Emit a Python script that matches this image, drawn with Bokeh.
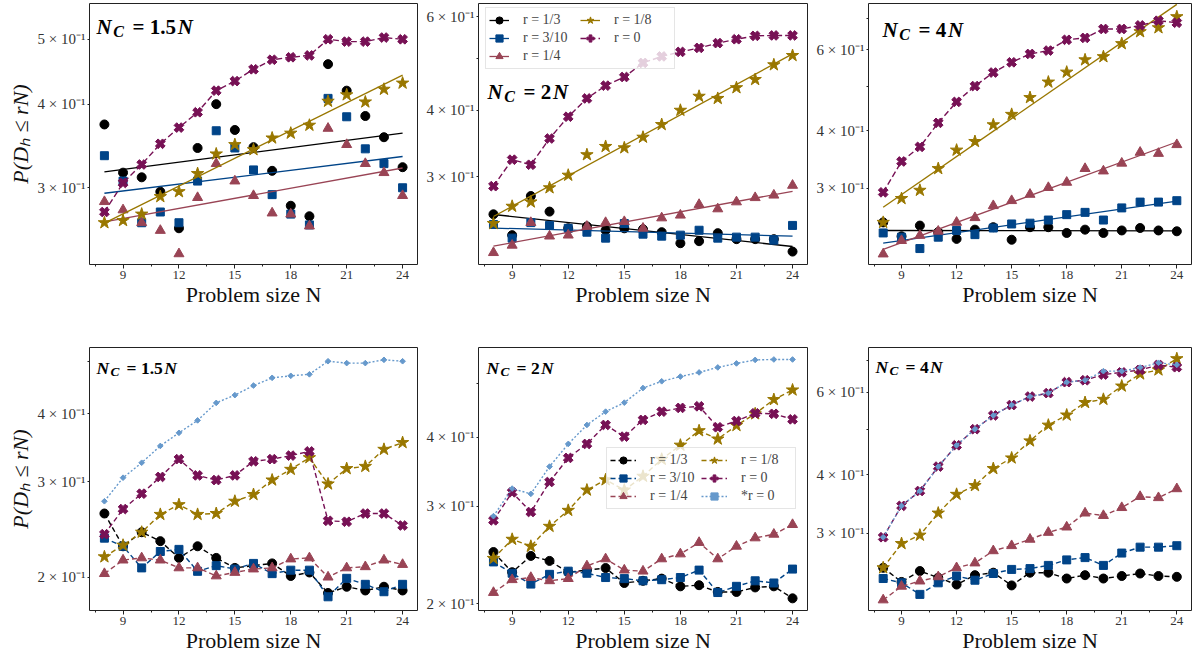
import numpy as np
from bokeh.plotting import figure
from bokeh.models import (Range1d, FixedTicker, SingleIntervalTicker, CustomJSTickFormatter,
                          Legend, LegendItem, Label, LinearAxis)
from bokeh.layouts import row, column
from bokeh.embed import file_html
from bokeh.resources import INLINE

# ---------------- data ----------------
N = list(range(8, 25))

# top-left  (N_C = 1.5N), points + exponential fits
a_r13 = [0.373, 0.316, 0.311, 0.296, 0.261, 0.344, 0.400, 0.366, 0.345, 0.318, 0.282, 0.272, 0.459, 0.419, 0.384, 0.357, 0.322]
a_r310 = [0.335, 0.307, 0.266, 0.276, 0.266, 0.307, 0.365, 0.344, 0.319, 0.293, 0.274, 0.264, 0.408, 0.383, 0.343, 0.326, 0.300]
a_r14 = [0.286, 0.278, 0.266, 0.259, 0.239, 0.290, 0.326, 0.307, 0.292, 0.275, 0.274, 0.263, 0.368, 0.348, 0.326, 0.316, 0.292]
a_r18 = [0.266, 0.268, 0.274, 0.291, 0.296, 0.315, 0.337, 0.348, 0.342, 0.356, 0.362, 0.372, 0.404, 0.413, 0.403, 0.421, 0.430]
a_r0 = [0.276, 0.305, 0.325, 0.349, 0.369, 0.389, 0.419, 0.433, 0.451, 0.466, 0.470, 0.473, 0.500, 0.496, 0.496, 0.503, 0.500]

# top-middle (N_C = 2N)
b_r13 = [0.255, 0.233, 0.276, 0.258, 0.240, 0.242, 0.238, 0.240, 0.239, 0.236, 0.225, 0.227, 0.235, 0.229, 0.229, 0.229, 0.217]
b_r310 = [0.244, 0.230, 0.246, 0.243, 0.240, 0.236, 0.230, 0.245, 0.234, 0.232, 0.233, 0.238, 0.230, 0.231, 0.231, 0.228, 0.243]
b_r14 = [0.216, 0.223, 0.246, 0.232, 0.233, 0.242, 0.246, 0.247, 0.240, 0.251, 0.254, 0.266, 0.261, 0.269, 0.274, 0.277, 0.289]
b_r18 = [0.245, 0.264, 0.269, 0.286, 0.302, 0.330, 0.342, 0.340, 0.356, 0.376, 0.400, 0.425, 0.421, 0.441, 0.457, 0.487, 0.507]
b_r0 = [0.288, 0.323, 0.316, 0.354, 0.389, 0.421, 0.445, 0.462, 0.491, 0.505, 0.515, 0.524, 0.535, 0.544, 0.552, 0.553, 0.553]

# top-right (N_C = 4N)
c_r13 = [0.253, 0.236, 0.249, 0.241, 0.233, 0.244, 0.247, 0.232, 0.247, 0.247, 0.240, 0.244, 0.240, 0.243, 0.246, 0.243, 0.242]
c_r310 = [0.240, 0.235, 0.222, 0.235, 0.243, 0.238, 0.246, 0.251, 0.252, 0.256, 0.263, 0.266, 0.256, 0.272, 0.280, 0.280, 0.282]
c_r14 = [0.216, 0.231, 0.237, 0.242, 0.253, 0.259, 0.275, 0.282, 0.291, 0.301, 0.309, 0.331, 0.327, 0.340, 0.359, 0.357, 0.373]
c_r18 = [0.253, 0.285, 0.297, 0.331, 0.363, 0.379, 0.412, 0.434, 0.472, 0.510, 0.536, 0.570, 0.579, 0.618, 0.656, 0.669, 0.707]
c_r0 = [0.294, 0.343, 0.369, 0.416, 0.462, 0.500, 0.535, 0.563, 0.587, 0.597, 0.630, 0.636, 0.665, 0.665, 0.677, 0.693, 0.686]

# bottom-left (N_C = 1.5N)
d_r13 = [0.262, 0.228, 0.242, 0.233, 0.217, 0.228, 0.217, 0.208, 0.210, 0.212, 0.201, 0.204, 0.187, 0.192, 0.189, 0.192, 0.189]
d_r310 = [0.236, 0.228, 0.208, 0.223, 0.225, 0.205, 0.210, 0.207, 0.212, 0.203, 0.206, 0.206, 0.184, 0.199, 0.194, 0.188, 0.194]
d_r14 = [0.203, 0.215, 0.217, 0.215, 0.208, 0.208, 0.201, 0.204, 0.207, 0.208, 0.216, 0.217, 0.200, 0.208, 0.209, 0.215, 0.211]
d_r18 = [0.218, 0.229, 0.242, 0.261, 0.272, 0.261, 0.262, 0.276, 0.284, 0.302, 0.316, 0.332, 0.297, 0.317, 0.320, 0.344, 0.354]
d_r0 = [0.240, 0.267, 0.285, 0.306, 0.330, 0.308, 0.302, 0.308, 0.327, 0.330, 0.335, 0.341, 0.254, 0.253, 0.262, 0.262, 0.249]
d_r0s = a_r0

# bottom-middle (N_C = 2N)
e_r13 = [0.248, 0.228, 0.244, 0.239, 0.228, 0.230, 0.232, 0.218, 0.220, 0.222, 0.215, 0.216, 0.210, 0.210, 0.214, 0.215, 0.2045]
e_r310 = [0.238, 0.227, 0.217, 0.226, 0.229, 0.227, 0.223, 0.222, 0.220, 0.221, 0.223, 0.230, 0.2095, 0.215, 0.220, 0.218, 0.231]
e_r14 = [0.2095, 0.221, 0.223, 0.220, 0.222, 0.234, 0.241, 0.230, 0.229, 0.241, 0.246, 0.258, 0.241, 0.254, 0.263, 0.267, 0.278]
e_r18 = [0.2415, 0.2615, 0.254, 0.276, 0.295, 0.321, 0.335, 0.321, 0.340, 0.365, 0.387, 0.411, 0.397, 0.420, 0.441, 0.468, 0.487]
e_r0 = [0.283, 0.318, 0.293, 0.332, 0.367, 0.389, 0.421, 0.401, 0.430, 0.445, 0.452, 0.455, 0.417, 0.428, 0.442, 0.441, 0.431]
e_r0s = b_r0

# bottom-right (N_C = 4N)
f_r13, f_r310, f_r14, f_r18 = c_r13, c_r310, c_r14, c_r18
f_r0 = [0.294, 0.343, 0.369, 0.416, 0.462, 0.500, 0.535, 0.563, 0.587, 0.597, 0.630, 0.636, 0.654, 0.661, 0.669, 0.685, 0.678]
f_r0s = c_r0

x_ticks_interval = 3
nc_texts = ["1.5", "2", "4"]

# ---------------- styles ----------------
FONT = "Liberation Serif"
COL = {"r13": "#000000", "r310": "#004488", "r14": "#994455", "r18": "#997700",
       "r0": "#771155", "r0s": "#6699CC"}
LAB = {"r13": "r = 1/3", "r310": "r = 3/10", "r14": "r = 1/4", "r18": "r = 1/8",
       "r0": "r = 0", "r0s": "*r = 0"}
MARK = {"r13": ("circle", 9, 0.0), "r310": ("square", 8, 0.0), "r14": ("triangle", 10, 0.0),
        "r18": ("star", 13, 0.0), "r0": ("plus", 10, np.pi / 4), "r0s": ("square", 4, np.pi / 4)}


def make_fig(w, h, bl, br, bt, bb, yr, yt, ym, ylabel=False):
    p = figure(width=w, height=h, x_range=Range1d(7.2, 24.8), y_range=Range1d(*yr),
               y_axis_type="log", y_axis_location=None,
               output_backend="svg", toolbar_location=None,
               min_border_left=bl, min_border_right=br, min_border_top=bt, min_border_bottom=bb)
    yax = LinearAxis(ticker=FixedTicker(ticks=yt, minor_ticks=ym),
                     formatter=CustomJSTickFormatter(
                         code="return Math.round(tick*10) + ' \u00d7 10\u207b\u00b9';"))
    p.add_layout(yax, "left")
    p.xgrid.visible = False
    p.ygrid.visible = False
    p.outline_line_color = "#222222"
    p.outline_line_width = 1
    p.background_fill_color = "white"
    p.border_fill_color = "white"
    p.xaxis.ticker = SingleIntervalTicker(interval=x_ticks_interval, num_minor_ticks=2)
    for ax in (p.xaxis[0], yax):
        ax.axis_line_color = None
        ax.major_label_text_font = FONT
        ax.major_label_text_color = "#333333"
        ax.major_tick_line_color = "#222222"
        ax.minor_tick_line_color = "#222222"
        ax.major_tick_in = 0
        ax.minor_tick_in = 0
    p.xaxis.major_label_text_font_size = "13px"
    yax.major_label_text_font_size = "15px"
    p.xaxis.major_tick_out = 4
    p.xaxis.minor_tick_out = 2
    yax.major_tick_out = 2
    yax.minor_tick_out = 2
    p.xaxis.major_label_standoff = 2
    yax.major_label_standoff = 2
    p.xaxis.axis_label = "Problem size N"
    p.xaxis.axis_label_text_font = FONT
    p.xaxis.axis_label_text_font_size = "22px"
    p.xaxis.axis_label_text_font_style = "normal"
    p.xaxis.axis_label_text_color = "#111111"
    p.xaxis.axis_label_standoff = 0
    if ylabel:
        yax.axis_label = "P(D\u2095 \u2264 rN)"
        yax.axis_label_text_font = FONT
        yax.axis_label_text_font_size = "22px"
        yax.axis_label_text_font_style = "italic"
        yax.axis_label_text_color = "#111111"
        yax.axis_label_standoff = 2
    return p


def nc_label(p, fh, x0, base, fs, num):
    y = fh - base
    common = dict(x_units="screen", y_units="screen", text_font=FONT, text_color="black",
                  text_baseline="alphabetic")
    p.add_layout(Label(x=x0, y=y, text="N", text_font_size=f"{fs}px",
                       text_font_style="bold italic", **common))
    p.add_layout(Label(x=x0 + 0.8 * fs, y=y - 0.22 * fs, text="C", text_font_size=f"{0.76 * fs:.1f}px",
                       text_font_style="bold italic", **common))
    p.add_layout(Label(x=x0 + 1.72 * fs, y=y, text="= " + num, text_font_size=f"{fs}px",
                       text_font_style="bold", **common))
    numw = sum(0.5 if ch.isdigit() else 0.25 for ch in num) * fs
    p.add_layout(Label(x=x0 + 1.72 * fs + 0.84 * fs + numw + 0.06 * fs, y=y, text="N",
                       text_font_size=f"{fs}px", text_font_style="bold italic", **common))


def scatter(p, key, y):
    m, s, a = MARK[key]
    return p.scatter(N, y, marker=m, size=s, angle=a, fill_color=COL[key], line_color=COL[key])


def top_series(p, data):
    items = []
    for key in ["r13", "r310", "r14", "r18"]:
        y = np.array(data[key])
        coef = np.polyfit(N, np.log10(y), 1)
        fx = [N[0], N[-1]]
        fy = [10 ** np.polyval(coef, x) for x in fx]
        sc = scatter(p, key, y)
        ln = p.line(fx, fy, line_color=COL[key], line_width=1.3)
        items.append(LegendItem(label=LAB[key], renderers=[ln, sc]))
    ln = p.line(N, data["r0"], line_color=COL["r0"], line_width=1.4, line_dash="6 3")
    sc = scatter(p, "r0", data["r0"])
    items.append(LegendItem(label=LAB["r0"], renderers=[ln, sc]))
    return items


def bottom_series(p, data):
    items = []
    for key in ["r13", "r310", "r14", "r18", "r0", "r0s"]:
        dash = "2 2" if key == "r0s" else "5 3"
        ln = p.line(N, data[key], line_color=COL[key], line_width=1.4, line_dash=dash)
        sc = scatter(p, key, data[key])
        items.append(LegendItem(label=LAB[key], renderers=[ln, sc]))
    return items


def add_legend(p, items, loc, gw):
    leg = Legend(items=items, location=loc, ncols=2, orientation="vertical",
                 label_text_font=FONT, label_text_font_size="14px",
                 glyph_width=gw, glyph_height=18, label_height=18,
                 label_width=91 - gw - 14, label_standoff=14,
                 spacing=0, padding=3, margin=0,
                 border_line_color="#cccccc", border_line_width=1,
                 background_fill_color="white", background_fill_alpha=0.8)
    p.add_layout(leg)


# ---------------- layout ----------------
W = [(418, 89, 1), (390, 60, 1), (384, 60, 1)]
TOP_H, TOP_BT, TOP_BB = 344, 3, 80
BOT_H, BOT_BT, BOT_BB = 311, 3, 45
FH_T = TOP_H - TOP_BT - TOP_BB
FH_B = BOT_H - BOT_BT - BOT_BB

top_data = [
    dict(r13=a_r13, r310=a_r310, r14=a_r14, r18=a_r18, r0=a_r0),
    dict(r13=b_r13, r310=b_r310, r14=b_r14, r18=b_r18, r0=b_r0),
    dict(r13=c_r13, r310=c_r310, r14=c_r14, r18=c_r18, r0=c_r0),
]
bot_data = [
    dict(r13=d_r13, r310=d_r310, r14=d_r14, r18=d_r18, r0=d_r0, r0s=d_r0s),
    dict(r13=e_r13, r310=e_r310, r14=e_r14, r18=e_r18, r0=e_r0, r0s=e_r0s),
    dict(r13=f_r13, r310=f_r310, r14=f_r14, r18=f_r18, r0=f_r0, r0s=f_r0s),
]
top_yr = [(0.2304, 0.5655), (0.2052, 0.635), (0.205, 0.7553)]
top_yt = [[0.3, 0.4, 0.5], [0.3, 0.4, 0.6], [0.3, 0.4, 0.6]]
top_ym = [[0.2, 0.6], [0.2, 0.5, 0.7], [0.2, 0.5, 0.7]]
bot_yr = [(0.1736, 0.530), (0.1944, 0.5813), (0.2051, 0.747)]
bot_yt = [[0.2, 0.3, 0.4], [0.2, 0.3, 0.4], [0.3, 0.4, 0.6]]
bot_ym = [[0.5], [0.5], [0.2, 0.5, 0.7]]

top_label_pos = [(7, 23), (9, 88), (14, 26)]
bot_label_pos = [(7, 20), (8, 20), (7, 19)]

tops, bots = [], []
for i in range(3):
    w, bl, br = W[i]
    p = make_fig(w, TOP_H, bl, br, TOP_BT, TOP_BB, top_yr[i], top_yt[i], top_ym[i], ylabel=(i == 0))
    items = top_series(p, top_data[i])
    if i == 1:
        add_legend(p, items, (7, FH_T - 6 - 60), 20)
    nc_label(p, FH_T, top_label_pos[i][0], top_label_pos[i][1], 21, nc_texts[i])
    tops.append(p)

    q = make_fig(w, BOT_H, bl, br, BOT_BT, BOT_BB, bot_yr[i], bot_yt[i], bot_ym[i], ylabel=(i == 0))
    items = bottom_series(q, bot_data[i])
    if i == 1:
        add_legend(q, items, (128, FH_B - 102 - 60), 26)
    nc_label(q, FH_B, bot_label_pos[i][0], bot_label_pos[i][1], 17.5, nc_texts[i])
    bots.append(q)

layout = column(row(*tops, spacing=0), row(*bots, spacing=0), spacing=0)
open("out.html", "w").write(file_html(layout, INLINE))
